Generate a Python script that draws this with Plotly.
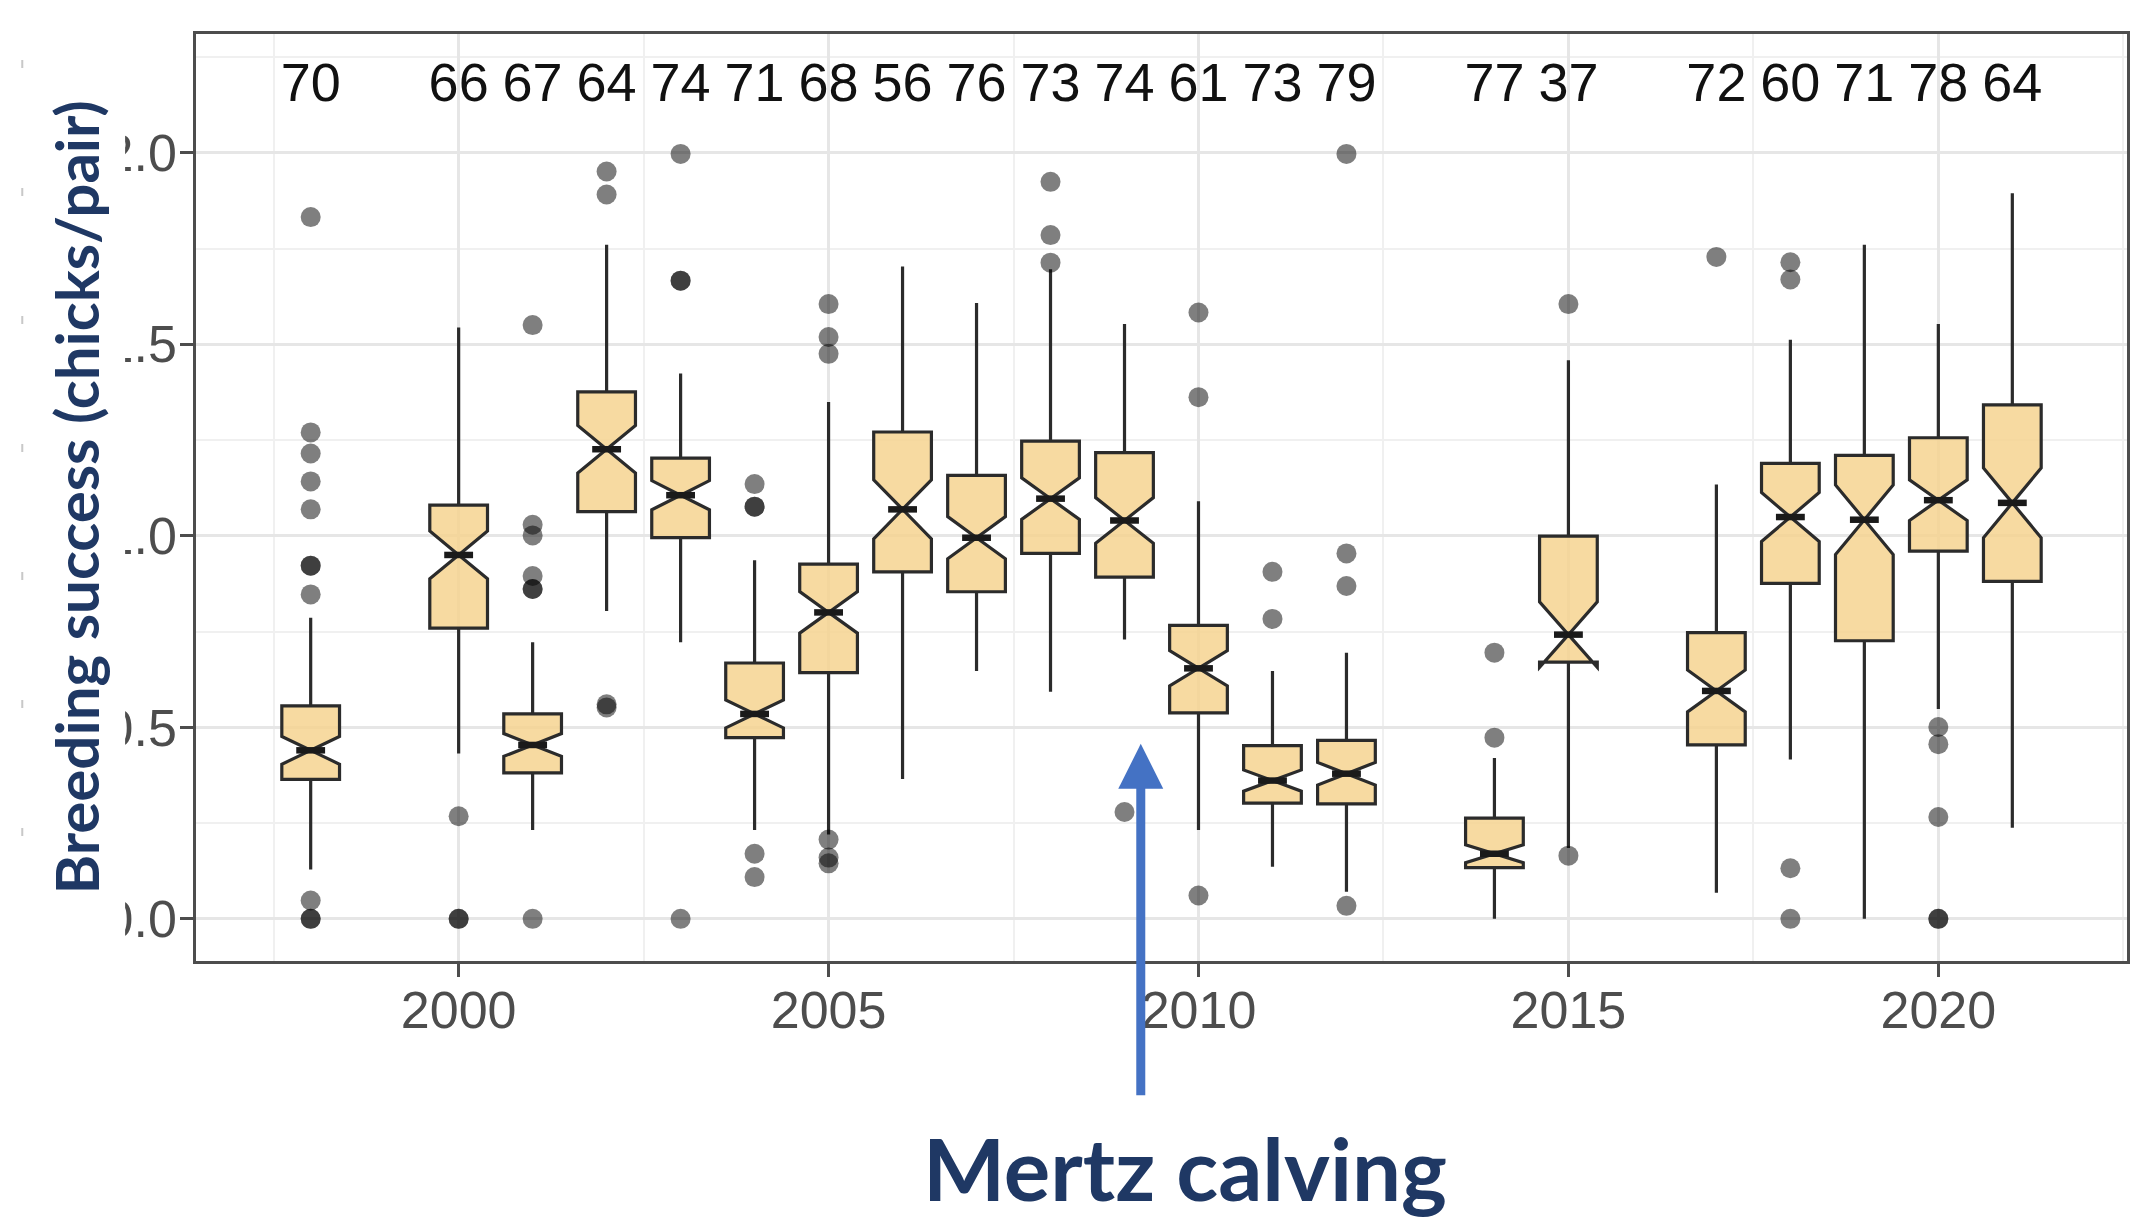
import plotly.graph_objects as go

# ---------------- data ----------------
years = [1998, 2000, 2001, 2002, 2003, 2004, 2005, 2006, 2007, 2008, 2009,
         2010, 2011, 2012, 2014, 2015, 2017, 2018, 2019, 2020, 2021]
counts = [70, 66, 67, 64, 74, 71, 68, 56, 76, 73, 74,
          61, 73, 79, 77, 37, 72, 60, 71, 78, 64]
q1 = [0.364, 0.759, 0.381, 1.063, 0.995, 0.473, 0.643, 0.906, 0.854, 0.954, 0.892,
      0.538, 0.302, 0.300, 0.134, 0.670, 0.454, 0.876, 0.726, 0.960, 0.881]
median = [0.440, 0.950, 0.454, 1.226, 1.106, 0.535, 0.800, 1.069, 0.995, 1.097, 1.040,
          0.654, 0.361, 0.379, 0.170, 0.742, 0.595, 1.049, 1.042, 1.093, 1.086]
q3 = [0.556, 1.080, 0.535, 1.376, 1.203, 0.668, 0.926, 1.271, 1.158, 1.247, 1.217,
      0.766, 0.452, 0.466, 0.263, 0.999, 0.747, 1.189, 1.210, 1.256, 1.342]
whisker_low = [0.129, 0.432, 0.232, 0.804, 0.722, 0.232, 0.220, 0.365, 0.647, 0.593, 0.729,
               0.232, 0.136, 0.071, 0.000, 0.185, 0.068, 0.416, 0.000, 0.548, 0.238]
whisker_high = [0.786, 1.544, 0.722, 1.760, 1.424, 0.936, 1.349, 1.703, 1.608, 1.696, 1.553,
                1.090, 0.647, 0.695, 0.420, 1.458, 1.134, 1.512, 1.760, 1.553, 1.894]

outlier_years = ([1998] * 11 + [2000] * 3 + [2001] * 7 + [2002] * 4 + [2003] * 4 +
                 [2004] * 5 + [2005] * 6 + [2008] * 3 + [2009] + [2010] * 3 +
                 [2011] * 2 + [2012] * 4 + [2014] * 2 + [2015] * 2 + [2017] +
                 [2018] * 4 + [2020] * 5)
outlier_values = ([1.832, 1.270, 1.215, 1.142, 1.069, 0.922, 0.922, 0.847, 0.048, 0.0, 0.0] +
                  [0.268, 0.0, 0.0] +
                  [1.550, 1.029, 1.001, 0.895, 0.861, 0.861, 0.0] +
                  [1.951, 1.891, 0.560, 0.552] +
                  [1.997, 1.666, 1.666, 0.0] +
                  [1.135, 1.076, 1.076, 0.170, 0.109] +
                  [1.605, 1.519, 1.475, 0.207, 0.160, 0.145] +
                  [1.924, 1.785, 1.713] +
                  [0.279] +
                  [1.583, 1.362, 0.061] +
                  [0.906, 0.783] +
                  [1.997, 0.954, 0.869, 0.034] +
                  [0.695, 0.473] +
                  [1.605, 0.165] +
                  [1.728] +
                  [1.714, 1.669, 0.132, 0.0] +
                  [0.501, 0.456, 0.266, 0.0, 0.0])

x_ticks = [2000, 2005, 2010, 2015, 2020]
y_ticks = [0.0, 0.5, 1.0, 1.5, 2.0]
label_y = 2.17
event_year = 2009.22
event_value = 0.457
y_title = "Breeding success (chicks/pair)"
event_text = "Mertz calving"

# ---------------- layout geometry ----------------
W, H = 2141, 1224
ML, MR, MT, MB = 196, 11, 34, 263
PW, PH = W - ML - MR, H - MT - MB


def px_x(px):
    return (px - ML) / PW


def px_y(py):
    return (H - MB - py) / PH


BOX_W = 0.78
NOTCH_W = 0.5
notchspan = [1.58 * (b - a) / (n ** 0.5) for a, b, n in zip(q1, q3, counts)]

fig = go.Figure()

fig.add_trace(go.Box(
    x=years, q1=q1, median=median, q3=q3,
    lowerfence=whisker_low, upperfence=whisker_high,
    notchspan=notchspan, notched=True, notchwidth=NOTCH_W,
    width=BOX_W, whiskerwidth=0,
    fillcolor="rgba(245,210,140,0.82)",
    line=dict(color="#2b2b2b", width=3.2),
    boxpoints=False, showlegend=False, hoverinfo="skip",
))

# thick median bars (ggplot fatten)
mx, my = [], []
for yr, md in zip(years, median):
    hw = BOX_W / 2 * NOTCH_W
    mx += [yr - hw, yr + hw, None]
    my += [md, md, None]
fig.add_trace(go.Scatter(x=mx, y=my, mode="lines",
                         line=dict(color="#1a1a1a", width=6.5),
                         showlegend=False, hoverinfo="skip"))

fig.add_trace(go.Scatter(x=outlier_years, y=outlier_values, mode="markers",
                         marker=dict(size=20, color="rgba(0,0,0,0.5)", line=dict(width=0)),
                         showlegend=False, hoverinfo="skip"))

fig.add_trace(go.Scatter(x=years, y=[label_y] * len(years), mode="text",
                         text=[str(c) for c in counts], textposition="middle center",
                         textfont=dict(family="Liberation Sans, Arial", size=54, color="#111111"),
                         showlegend=False, hoverinfo="skip"))

axis_common = dict(
    showline=True, mirror=True, linecolor="#4d4d4d", linewidth=2.5,
    ticks="outside", ticklen=13, tickwidth=2.5, tickcolor="#4d4d4d",
    showgrid=True, gridcolor="#e6e6e6", gridwidth=2.5, zeroline=False,
    tickfont=dict(family="Liberation Sans, Arial", size=52, color="#4d4d4d"),
)

fig.update_layout(
    width=W, height=H,
    margin=dict(l=ML, r=MR, t=MT, b=MB, pad=0),
    paper_bgcolor="white", plot_bgcolor="white",
    showlegend=False,
    xaxis=dict(range=[1996.45, 2022.55], tickvals=x_ticks, ticklabelstandoff=-11,
               minor=dict(dtick=2.5, tick0=2000, showgrid=True, gridcolor="#f0f0f0", gridwidth=1.5, ticks=""),
               **axis_common),
    yaxis=dict(range=[-0.11, 2.31], tickvals=y_ticks, tickformat=".1f", ticklabelstandoff=-7,
               minor=dict(dtick=0.25, tick0=0, showgrid=True, gridcolor="#f0f0f0", gridwidth=1.5, ticks=""),
               **axis_common),
)

# white strip that hides the left part of the y tick labels (as in the reference)
fig.add_shape(type="rect", xref="paper", yref="paper",
              x0=px_x(-10), x1=px_x(125), y0=px_y(H + 10), y1=px_y(-10),
              fillcolor="white", line=dict(width=0), layer="above")
# faint dashed edge at far left
fig.add_shape(type="line", xref="paper", yref="paper",
              x0=px_x(22), x1=px_x(22), y0=px_y(60), y1=px_y(950),
              line=dict(color="#c8c8c8", width=2, dash="8px,120px"), layer="above")

fig.add_annotation(text=y_title, textangle=-90, xref="paper", yref="paper",
                   x=px_x(76), y=px_y(497), xanchor="center", yanchor="middle",
                   showarrow=False,
                   font=dict(family="Lato, Open Sans", size=60, color="#1f3864", weight="bold"))

fig.add_annotation(text="", x=event_year, y=event_value, xref="x", yref="y",
                   ax=0, ay=353, axref="pixel", ayref="pixel",
                   showarrow=True, arrowhead=2, arrowsize=1.0, arrowwidth=9,
                   arrowcolor="#4472c4", standoff=0)

fig.add_annotation(text=event_text, xref="paper", yref="paper",
                   x=px_x(1187), y=px_y(1167), xanchor="center", yanchor="middle",
                   showarrow=False,
                   font=dict(family="Lato, Open Sans", size=87, color="#1f3864", weight="bold"))

fig.write_html("out.html", config={"displayModeBar": False},
               post_script="document.body.style.margin='0';document.body.style.overflow='hidden';")
